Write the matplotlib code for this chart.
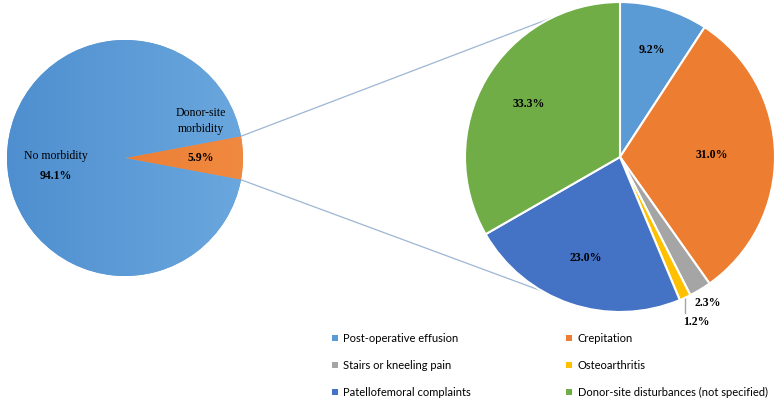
import matplotlib.pyplot as plt
import numpy as np

# overall split (left pie)
main_labels = ['No morbidity', 'Donor-site\nmorbidity']
main_values = [94.1, 5.9]

# breakdown of donor-site morbidity (right pie)
sub_labels = ['Post-operative effusion', 'Crepitation', 'Stairs or kneeling pain',
              'Osteoarthritis', 'Patellofemoral complaints',
              'Donor-site disturbances (not specified)']
sub_values = [9.2, 31.0, 2.3, 1.2, 23.0, 33.3]
sub_colors = ['#5B9BD5', '#ED7D31', '#A5A5A5', '#FFC000', '#4472C4', '#70AD47']

serif = 'Liberation Serif'

fig = plt.figure(figsize=(7.78, 4), dpi=100)
ax = fig.add_axes([0, 0, 1, 1])

# left pie, small slice centred on the right
lc, lr = (125, 242), 118
start = -main_values[1] * 3.6 / 2
lw_, _ = ax.pie(main_values[::-1], colors=['#ED7D31', '#5B9BD5'], startangle=start,
                center=lc, radius=lr, counterclock=True,
                wedgeprops=dict(linewidth=0))

# soft left-to-right shading like the original
grad = np.linspace(0, 1, 256).reshape(1, -1)
for w, (c0, c1) in zip(lw_, [('#E8732A', '#F08A40'), ('#4F8FCF', '#6AA7DE')]):
    cmap = plt.matplotlib.colors.LinearSegmentedColormap.from_list('g', [c0, c1])
    im = ax.imshow(grad, cmap=cmap, extent=(lc[0] - lr, lc[0] + lr, lc[1] - lr, lc[1] + lr),
                   aspect='auto', zorder=1.1, interpolation='bilinear')
    im.set_clip_path(w)

# right pie, clockwise from the top
rc, rr = (620, 243), 155
wedges, _ = ax.pie(sub_values, colors=sub_colors, startangle=90, counterclock=False,
                   center=rc, radius=rr,
                   wedgeprops=dict(edgecolor='white', linewidth=1.5))

# connector lines from the small slice to the breakdown pie
for a_left, a_right in [(-start, 116), (start, -120)]:
    x0 = lc[0] + lr * np.cos(np.radians(a_left))
    y0 = lc[1] + lr * np.sin(np.radians(a_left))
    x1 = rc[0] + rr * np.cos(np.radians(a_right))
    y1 = rc[1] + rr * np.sin(np.radians(a_right))
    ax.plot([x0, x1], [y0, y1], color='#9DB6D3', lw=0.9, zorder=0.5)

# left pie labels
ax.text(lc[0] - 0.59 * lr, lc[1] + 2, main_labels[0], ha='center', va='center',
        family=serif, fontsize=8.5, zorder=3)
ax.text(lc[0] - 0.59 * lr, lc[1] - 18, f'{main_values[0]:.1f}%', ha='center', va='center',
        family=serif, fontsize=8.5, fontweight='bold', zorder=3)
ax.text(lc[0] + 0.64 * lr, lc[1] + 37, main_labels[1], ha='center', va='center',
        family=serif, fontsize=8.5, linespacing=1.4, zorder=3)
ax.text(lc[0] + 0.64 * lr, lc[1], f'{main_values[1]:.1f}%', ha='center', va='center',
        family=serif, fontsize=8.5, fontweight='bold', zorder=3)

# right pie labels
dist = [0.72, 0.59, 1.10, 1.17, 0.69, 0.68]
cum = np.cumsum([0] + sub_values)
for i, v in enumerate(sub_values):
    mid = np.radians(90 - (cum[i] + v / 2) * 3.6)
    x = rc[0] + dist[i] * rr * np.cos(mid)
    y = rc[1] + dist[i] * rr * np.sin(mid)
    if v == 1.2:
        ex = rc[0] + rr * np.cos(mid)
        ey = rc[1] + rr * np.sin(mid)
        ax.plot([ex, ex], [ey, y + 9], color='#A5A5A5', lw=1, zorder=0.5)
    ax.text(x, y, f'{v:.1f}%', ha='center', va='center', family=serif,
            fontsize=8.5, fontweight='bold')

# legend, two columns read row by row
order = [0, 2, 4, 1, 3, 5]
leg = ax.legend([wedges[i] for i in order], [sub_labels[i] for i in order],
                ncol=2, loc='upper left', bbox_to_anchor=(332 / 778, 67 / 400),
                frameon=False, prop={'family': 'Lato', 'size': 8},
                handlelength=0.5, handleheight=0.5, handletextpad=0.5,
                labelspacing=1.45, columnspacing=8.6, borderpad=0, borderaxespad=0)
for h in leg.legend_handles:
    h.set_edgecolor('none')

ax.set_xlim(0, 778)
ax.set_ylim(0, 400)
ax.set_aspect('equal')
ax.axis('off')

fig.savefig('out.png', dpi=100)
